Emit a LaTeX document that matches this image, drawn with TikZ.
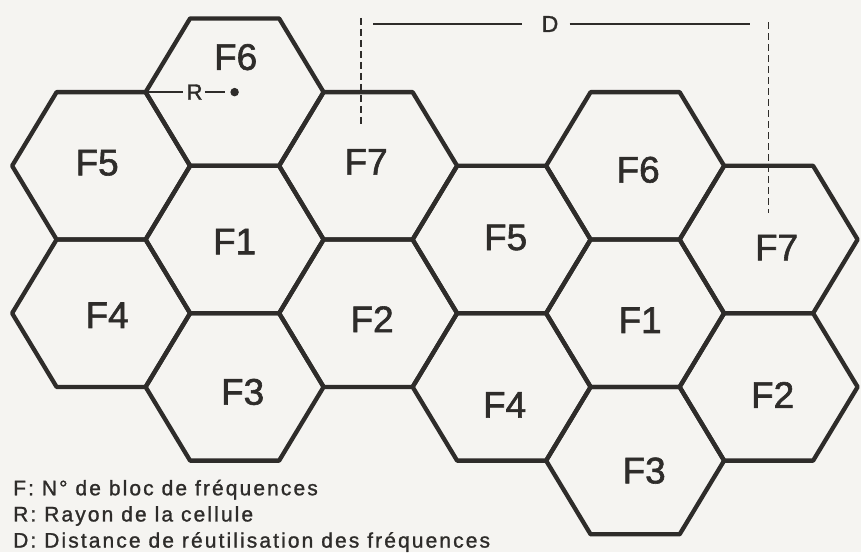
\documentclass[tikz,border=0pt]{standalone}
\usepackage{fontspec}
\setmainfont{Liberation Sans}
\newfontfamily\labelfont[FakeBold=1.6]{Liberation Sans}
\newfontfamily\legendfont[LetterSpace=10,FakeBold=1.2]{Liberation Sans}
\usetikzlibrary{positioning,calc}
\definecolor{ink}{RGB}{46,44,42}
\definecolor{paper}{RGB}{245,244,241}
\tikzset{
  cell/.style={draw=ink, line width=4.3pt, line join=round},
  celllabel/.style={text=ink, inner sep=0pt, font=\labelfont\fontsize{37}{37}\selectfont},
  thinline/.style={draw=ink, line width=1.5pt},
  dashline/.style={draw=ink, line width=1.5pt, dash pattern=on 7pt off 4pt},
  marklabel/.style={text=ink, inner sep=0pt, font=\labelfont\fontsize{23}{23}\selectfont},
  dotmark/.style={circle, fill=ink, inner sep=0pt, minimum size=8.5pt},
  legend/.style={text=ink, inner sep=0pt, anchor=base west, font=\legendfont\fontsize{21}{26}\selectfont}
}

\begin{document}
\begin{tikzpicture}[x=89pt, y=-73.7pt]
\fill[paper] (0,0) rectangle (9.674,7.490);
\useasboundingbox (0,0) rectangle (9.674,7.490);

% two clusters of seven cells
\foreach \clu/\cx/\cy in {a/2.636/3.25, b/7.136/4.25}{
  \foreach \f/\dx/\dy in {1/0/0, 6/0/-2, 7/1.5/-1, 2/1.5/1, 3/0/2, 4/-1.5/1, 5/-1.5/-1}{
    \coordinate (\clu\f) at (\cx+\dx, \cy+\dy);
    \draw[cell] (\clu\f) ++(1,0) -- ++(-0.5,1) -- ++(-1,0) -- ++(-0.5,-1) -- ++(0.5,-1) -- ++(1,0) -- cycle;
  }
}

\foreach \c/\t/\sx/\sy in {a1/F1/0/-2, a6/F6/1/35, a7/F7/-2/4, a2/F2/4/-6, a3/F3/8/-5, a4/F4/6/-2, a5/F5/-4/3,
                           b1/F1/5/-7, b6/F6/3/-4, b7/F7/8/-8, b2/F2/4/-8, b3/F3/9/-10, b4/F4/3/-18, b5/F5/4/2}
  \node[celllabel, xshift=\sx pt, yshift=\sy pt] (lab\c) at (\c) {\t};

% radius
\node[dotmark] (rdot) at (a6) {};
\node[marklabel, font=\labelfont\fontsize{22}{22}\selectfont] (rlab) at ($(a6)+(-40pt,0pt)$) {R};
\coordinate (rvert) at ($(a6)+(-1,0)$);
\draw[thinline, shorten >=3pt] (rvert) -- (rlab.west);
\draw[thinline, shorten <=2pt, shorten >=5pt] (rlab.east) -- (rdot.west);

% reuse distance
\coordinate (dtopl) at (4.056,0.244);
\coordinate (dbotl) at (4.056,1.710);
\coordinate (dtopr) at (8.636,0.299);
\coordinate (dbotr) at (8.636,2.890);
\draw[dashline] (dtopl) -- (dbotl);
\draw[dashline] (dtopr) -- (dbotr);
\node[marklabel] (dlab) at (6.18,0.326) {D};
\coordinate (dl) at (4.191,0.326);
\coordinate (dr) at (8.427,0.326);
\draw[thinline, shorten >=20pt] (dl) -- (dlab.west);
\draw[thinline, shorten <=11pt] (dlab.east) -- (dr);

% legend
\node[legend] (legf) at (0.146,6.72) {F: N° de bloc de fréquences};
\node[legend] (legr) at (0.146,7.075) {R: Rayon de la cellule};
\node[legend] (legd) at (0.146,7.43) {D: Distance de réutilisation des fréquences};
\end{tikzpicture}
\end{document}
